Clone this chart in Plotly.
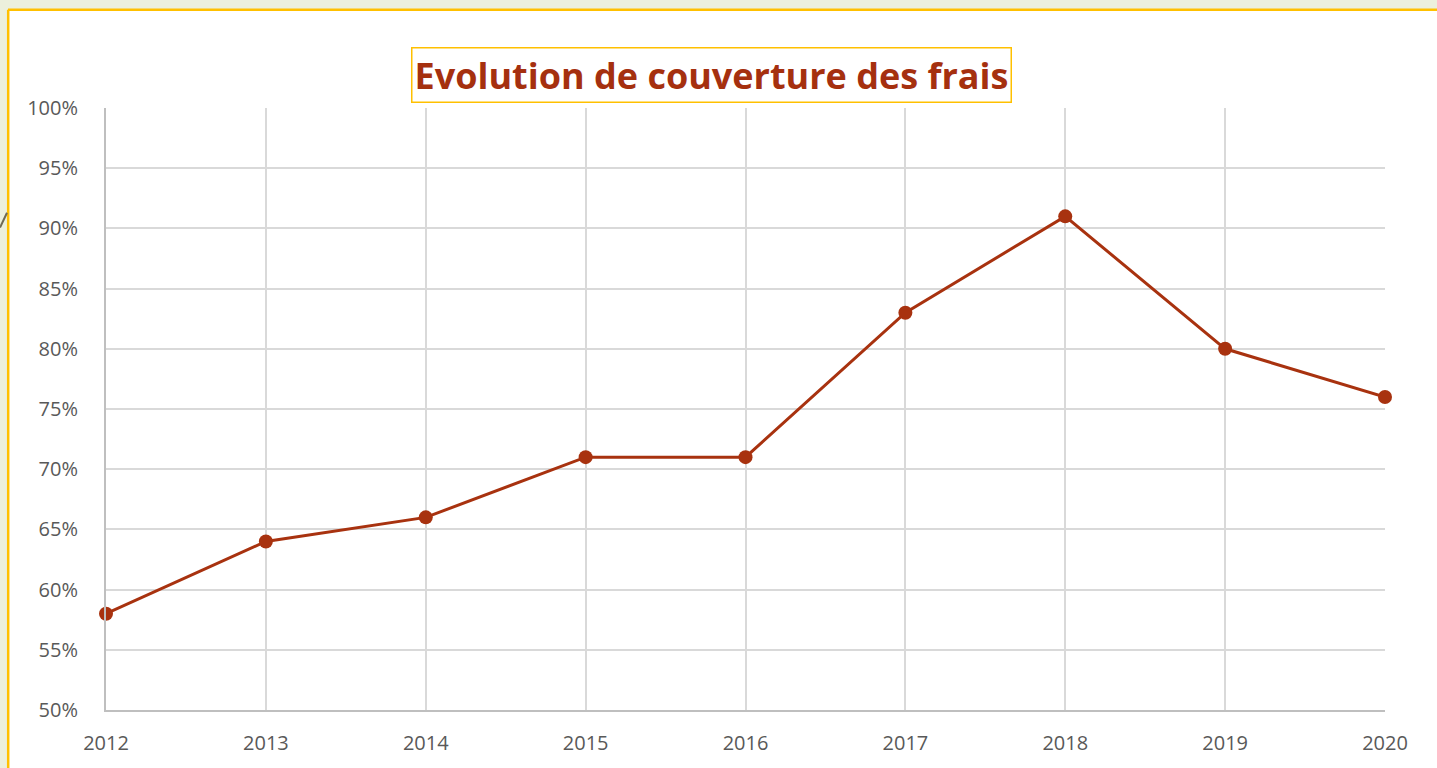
import plotly.graph_objects as go

years = ["2012", "2013", "2014", "2015", "2016", "2017", "2018", "2019", "2020"]
coverage = [0.58, 0.64, 0.66, 0.71, 0.71, 0.83, 0.91, 0.80, 0.76]
title_text = "Evolution de couverture des frais"

W, H = 1437, 768
L, R, T, B = 106, 52, 108, 51
PW, PH = W - L - R, H - T - B

def px(x):
    return (x - L) / PW

def py(y):
    return (H - B - y) / PH

RED = "#A8320F"
GRID = "#D9D9D9"
AXIS = "#BFBFBF"
TXT = "#595959"
FONT = "Open Sans"

fig = go.Figure()
fig.add_trace(go.Scatter(
    x=list(range(len(years))), y=coverage, mode="lines+markers",
    line=dict(color=RED, width=3),
    marker=dict(color=RED, size=14),
    cliponaxis=False, showlegend=False, hoverinfo="x+y",
))

shapes = [
    dict(type="rect", xref="paper", yref="paper", x0=px(9), x1=px(W + 20), y0=py(H + 20), y1=py(9),
         fillcolor="white", line=dict(width=0), layer="below"),
    dict(type="line", xref="paper", yref="paper", x0=px(8), x1=px(W + 20), y0=py(8.5), y1=py(8.5),
         line=dict(color="#FFC000", width=2.5), layer="below"),
    dict(type="line", xref="paper", yref="paper", x0=px(8.2), x1=px(8.2), y0=py(8.5), y1=py(H + 20),
         line=dict(color="#FFC000", width=2.5), layer="below"),
    dict(type="line", xref="paper", yref="paper", x0=px(0), x1=px(7), y0=py(229), y1=py(214),
         line=dict(color="#6E6A55", width=2), layer="below"),
]

fig.update_layout(
    width=W, height=H,
    margin=dict(l=L, r=R, t=T, b=B, pad=0),
    paper_bgcolor="#ECF0DC",
    plot_bgcolor="white",
    shapes=shapes,
    font=dict(family=FONT, color=TXT, size=20),
    annotations=[dict(
        text="<b>" + title_text + "</b>", xref="paper", yref="paper",
        x=px(711), y=py(75), xanchor="center", yanchor="middle", showarrow=False,
        font=dict(family=FONT, size=36, color="#A5300F"),
        bordercolor="#FFC000", borderwidth=1.5, borderpad=2, bgcolor="white",
    )],
    xaxis=dict(
        range=[0, len(years) - 1], tickmode="array",
        tickvals=list(range(len(years))), ticktext=years,
        showgrid=True, gridcolor=GRID, gridwidth=1.5,
        showline=True, linecolor=AXIS, linewidth=2, mirror=False,
        ticks="", ticklabelstandoff=14, zeroline=False,
        tickfont=dict(family=FONT, size=20, color=TXT),
    ),
    yaxis=dict(
        range=[0.5, 1.0], dtick=0.05, tickformat=".0%",
        showgrid=True, gridcolor=GRID, gridwidth=1.5,
        showline=True, linecolor=AXIS, linewidth=2,
        ticks="", ticklabelstandoff=22, zeroline=False,
        tickfont=dict(family=FONT, size=20, color=TXT),
    ),
)

fig.write_html("out.html", config={"displayModeBar": False},
               post_script="document.body.style.margin='0';document.body.style.overflow='hidden';")
